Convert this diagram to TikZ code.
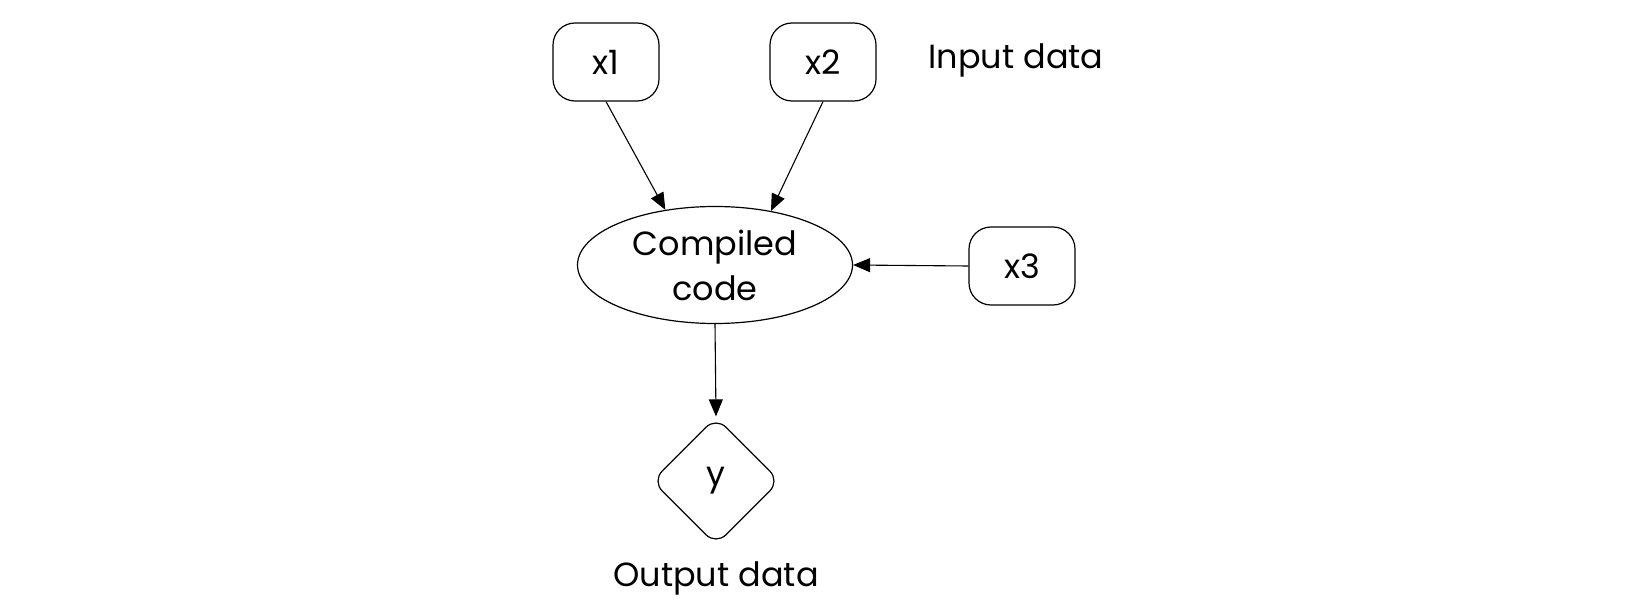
\documentclass[tikz,border=0pt]{standalone}
\usepackage{fontspec}
\setmainfont{Poppins}
\usetikzlibrary{shapes.geometric,arrows.meta}
\begin{document}
\begin{tikzpicture}[x=1pt,y=-1pt,
  every node/.style={font=\fontsize{33.5}{40}\selectfont},
  inbox/.style={draw,line width=1.2pt,rounded corners=22pt,minimum width=106pt,minimum height=78pt,inner sep=0pt},
  conn/.style={line width=1.1pt,-{Triangle[length=17pt,width=14pt]}},
  lbl/.style={font=\fontsize{33.5}{40}\selectfont}]
\useasboundingbox (0,0) rectangle (1650,615);
\node[inbox] (x1) at (606,62) {x1};
\node[inbox] (x2) at (823,62) {x2};
\node[inbox] (x3) at (1022,266) {x3};
\node[draw,ellipse,line width=1.2pt,minimum width=275pt,minimum height=117pt,inner sep=0pt,align=center,font=\fontsize{33.5}{45}\selectfont] (cc) at (715,265) {Compiled\\code};
\node[draw,diamond,line width=1.2pt,rounded corners=14pt,minimum width=128pt,minimum height=128pt,inner sep=0pt] (y) at (716,481) {y};
\node[lbl] (inlbl) at (1016,60) {Input data};
\node[lbl] (outlbl) at (716,578) {Output data};
\draw[conn] (x1.south) -- (cc.132.5);
\draw[conn] (x2.south) -- (cc.44.3);
\draw[conn] (x3.west) -- (cc.east);
\draw[conn] (cc.south) -- (y.north);
\end{tikzpicture}
\end{document}
